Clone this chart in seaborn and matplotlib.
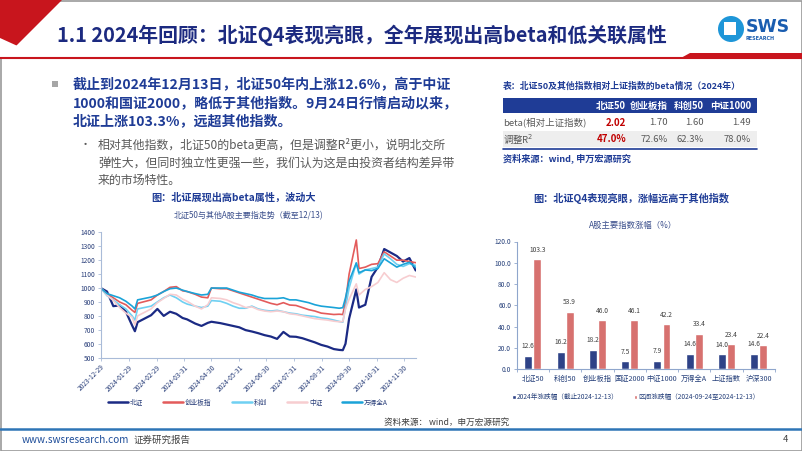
import matplotlib
matplotlib.use("Agg")
import matplotlib.pyplot as plt
import matplotlib.patches as mpatches
from matplotlib.lines import Line2D
import numpy as np
import pandas as pd
import seaborn as sns

sns.set_style("white")
plt.rcParams['font.family'] = ['Noto Sans CJK SC', 'DejaVu Sans']
plt.rcParams['axes.unicode_minus'] = False

# ---------------- data ----------------
dates = ['2023-12-29','2024-01-05','2024-01-12','2024-01-19','2024-01-26','2024-02-02','2024-02-05',
         '2024-02-08','2024-02-23','2024-03-01','2024-03-08','2024-03-15','2024-03-22','2024-03-29',
         '2024-04-03','2024-04-12','2024-04-19','2024-04-26','2024-04-30','2024-05-10','2024-05-17',
         '2024-05-24','2024-05-31','2024-06-07','2024-06-14','2024-06-21','2024-06-28','2024-07-05',
         '2024-07-12','2024-07-19','2024-07-26','2024-08-02','2024-08-09','2024-08-16','2024-08-23',
         '2024-08-30','2024-09-06','2024-09-13','2024-09-19','2024-09-23','2024-09-26','2024-09-30',
         '2024-10-08','2024-10-11','2024-10-18','2024-10-25','2024-11-01','2024-11-08','2024-11-15',
         '2024-11-22','2024-11-29','2024-12-06','2024-12-13']
beizheng = [1000,975,870,875,830,730,690,755,805,850,800,830,815,785,775,745,728,750,758,748,738,
            728,718,698,688,676,662,652,635,685,652,650,640,625,610,592,580,562,556,554,600,780,
            990,860,880,1080,1150,1280,1255,1230,1190,1215,1126]
chuangye = [1000,960,930,900,880,840,825,890,915,950,975,1005,1010,980,975,955,935,930,1000,995,995,
            980,965,950,935,920,905,890,880,895,878,875,860,845,835,820,815,810,812,810,900,1100,
            1345,1140,1150,1170,1175,1260,1230,1200,1200,1190,1182]
kechuang = [1000,945,915,880,850,800,770,850,870,900,930,950,930,900,885,870,860,870,910,905,890,
            870,855,855,870,850,840,835,840,830,820,815,805,800,795,785,780,770,760,755,860,1000,
            1180,1100,1130,1140,1150,1245,1210,1170,1155,1175,1162]
zhongzheng = [1000,950,910,860,820,790,735,800,850,895,925,955,950,920,905,870,850,880,930,925,915,
              895,880,860,865,845,835,830,835,830,815,810,800,790,780,775,770,762,758,759,850,920,
              1030,950,990,1010,1040,1110,1060,1040,1070,1090,1079]
wande = [1000,960,945,930,905,870,850,915,935,950,975,995,1000,985,975,960,950,955,1000,1000,1000,
         985,970,960,950,935,925,925,925,930,915,915,905,895,880,870,865,860,855,859,930,1050,
         1180,1110,1130,1125,1140,1210,1180,1150,1170,1185,1146]
line_names = ['北证', '创业板指', '科创', '中证', '万得全A']
xtick_dates = ['2023-12-29','2024-01-29','2024-02-29','2024-03-31','2024-04-30','2024-05-31',
               '2024-06-30','2024-07-31','2024-08-31','2024-09-30','2024-10-31','2024-11-30']

bar_cats = ['北证50', '科创50', '创业板指', '国证2000', '中证1000', '万得全A', '上证指数', '沪深300']
ytd_2024 = [12.6, 16.2, 18.2, 7.5, 7.9, 14.6, 14.0, 14.6]
since_0924 = [103.3, 53.9, 46.0, 46.1, 42.2, 33.4, 23.4, 22.4]
bar_series = ['2024年涨跌幅（截止2024-12-13）', '区间涨跌幅（2024-09-24至2024-12-13）']

tbl_cols = ['北证50', '创业板指', '科创50', '中证1000']
tbl_beta = ['2.02', '1.70', '1.60', '1.49']
tbl_r2 = ['47.0%', '72.6%', '62.3%', '78.0%']

# ---------------- figure ----------------
W, H = 802, 451
fig = plt.figure(figsize=(W/100, H/100), dpi=100)
fig.patch.set_facecolor('white')
bg = fig.add_axes([0, 0, 1, 1])
bg.set_xlim(0, W); bg.set_ylim(H, 0); bg.axis('off')

def T(x, y, s, size, color, weight='normal', ha='left', va='center', **kw):
    bg.text(x, y, s, fontsize=size, color=color, fontweight=weight, ha=ha, va=va, **kw)

# frame
bg.add_patch(mpatches.Rectangle((0.5, 0.5), W-1, H-1, fill=False, ec='#9a9a9a', lw=1.2))
# header shapes
bg.add_patch(mpatches.Polygon([(0, 0), (62, 0), (14, 48), (0, 48)], closed=True, fc='#c8151d', ec='none'))
bg.add_patch(mpatches.Polygon([(0, 38), (22, 48), (0, 58)], closed=True, fc='white', ec='none'))
bg.plot([0, W], [57.5, 57.5], color='#c8151d', lw=1.5)
bg.add_patch(mpatches.Polygon([(680, 58.5), (690, 53), (W, 53), (W, 58.5)], closed=True, fc='#c8151d', ec='none'))
T(57, 35, '1.1 2024年回顾：北证Q4表现亮眼，全年展现出高beta和低关联属性', 14.3, '#1c2a80', weight='bold')
# logo
bg.add_patch(mpatches.Circle((731, 29), 13, fc='#1e96d8', ec='none'))
bg.add_patch(mpatches.Rectangle((724, 22), 12, 13, fc='white', ec='none'))
T(746, 27, 'SWS', 12.5, '#1a5db0', weight='bold', family='DejaVu Sans')
T(746, 39, 'RESEARCH', 3.5, '#1a5db0', weight='bold', family='DejaVu Sans')

# left text
bg.add_patch(mpatches.Rectangle((52, 81), 6, 6, fc='#a6a6a6', ec='none'))
TXT = '#1f3c96'
T(73, 85, '截止到2024年12月13日，北证50年内上涨12.6%，高于中证', 10.1, TXT, weight='bold')
T(73, 103, '1000和国证2000，略低于其他指数。9月24日行情启动以来，', 10.1, TXT, weight='bold')
T(73, 121.5, '北证上涨103.3%，远超其他指数。', 10.1, TXT, weight='bold')
T(80, 145, '•', 8, '#595959')
T(98, 145, '相对其他指数，北证50的beta更高，但是调整R²更小，说明北交所', 8.6, '#595959')
T(98, 163, '弹性大，但同时独立性更强一些，我们认为这是由投资者结构差异带', 8.6, '#595959')
T(98, 180.5, '来的市场特性。', 8.6, '#595959')

# table
T(503, 86.5, '表：北证50及其他指数相对上证指数的beta情况（2024年）', 6.4, TXT, weight='bold')
bg.add_patch(mpatches.Rectangle((503, 98), 254, 15, fc='#1f3c96', ec='none'))
bg.add_patch(mpatches.Rectangle((503, 131), 254, 16, fc='#eeeeee', ec='none'))
bg.plot([503, 757], [148.5, 148.5], color='#1f3c96', lw=1.2)
col_x = [626, 668, 704, 751]
for cx, c in zip(col_x, tbl_cols):
    T(cx, 105.5, c, 6.8, 'white', weight='bold', ha='right')
T(503, 122.5, 'beta(相对上证指数)', 6.8, '#595959')
T(503, 139.5, '调整R$^2$', 6.8, '#595959')
for i, (cx, b, r) in enumerate(zip(col_x, tbl_beta, tbl_r2)):
    if i == 0:
        T(cx, 122.5, b, 7.0, '#c00000', weight='bold', ha='right')
        T(cx, 139.5, r, 7.0, '#c00000', weight='bold', ha='right')
    else:
        T(cx, 122.5, b, 6.8, '#595959', ha='right')
        T(cx, 139.5, r, 6.8, '#595959', ha='right')
T(503, 158.5, '资料来源：wind, 申万宏源研究', 6.6, TXT, weight='bold')

# chart titles
T(234, 198, '图：北证展现出高beta属性，波动大', 7.3, TXT, weight='bold', ha='center')
T(249, 216, '北证50与其他A股主要指走势（截至12/13)', 5.8, '#3b4f8c', ha='center')
T(631, 198, '图：北证Q4表现亮眼，涨幅远高于其他指数', 7.3, TXT, weight='bold', ha='center')
T(633, 225, 'A股主要指数涨幅（%）', 6.0, '#3b4f8c', ha='center')

# footer
T(447, 422, '资料来源： wind，申万宏源研究', 6.2, '#404040', ha='center')
bg.plot([0, W], [428.5, 428.5], color='#2e75b6', lw=1.8)
T(22, 440, 'www.swsresearch.com', 7.2, '#1f4e9a')
T(134, 440, '证券研究报告', 6.8, '#404040')
T(785, 440, '4', 6.8, '#404040', ha='center')

# ---------------- line chart ----------------
def fax(l, t, r, b):
    return fig.add_axes([l/W, 1-b/H, (r-l)/W, (b-t)/H])

axl = fax(100.7, 232.3, 415.7, 357.7)
series_vals = [beizheng, chuangye, kechuang, zhongzheng, wande]
dl = pd.DataFrame({
    'date': np.tile(pd.to_datetime(dates), len(line_names)),
    'value': np.concatenate([np.array(v, float) for v in series_vals]),
    'name': np.repeat(line_names, len(dates)),
})
line_colors = {'北证': '#1b2a84', '创业板指': '#e35b5b', '科创': '#6fd0f2', '中证': '#f7cdd0', '万得全A': '#1aa3d8'}
line_widths = {'北证': 1.6, '创业板指': 1.2, '科创': 1.2, '中证': 1.2, '万得全A': 1.2}
sns.lineplot(data=dl, x='date', y='value', hue='name', hue_order=line_names, palette=line_colors,
             ax=axl, legend=False, estimator=None, sort=False)
for ln, nm in zip(axl.get_lines(), line_names):
    ln.set_linewidth(line_widths[nm])
axl.set_xlim(pd.Timestamp('2023-12-29'), pd.Timestamp('2024-12-13'))
axl.set_ylim(500, 1400)
axl.set_yticks(range(500, 1401, 100))
axl.set_xticks(pd.to_datetime(xtick_dates))
axl.set_xticklabels(xtick_dates, rotation=45, ha='right', rotation_mode='anchor')
axl.set_xlabel(''); axl.set_ylabel('')
for s in ['top', 'right']:
    axl.spines[s].set_visible(False)
for s in ['left', 'bottom']:
    axl.spines[s].set_color('#a9bbd8'); axl.spines[s].set_linewidth(0.8)
axl.tick_params(axis='both', length=2.5, width=0.6, color='#a9bbd8', labelsize=4.8, labelcolor='#2a3f7a', pad=1.5, direction='out')
axl.tick_params(axis='x', bottom=True)
axl.tick_params(axis='y', left=True)
axl.set_facecolor('none')
handles = [Line2D([0], [0], color=line_colors[n], lw=1.8) for n in line_names]
fig.legend(handles, line_names, loc='center', bbox_to_anchor=(248/W, 1-402.5/H), ncol=5, frameon=False,
           fontsize=4.8, handlelength=3.0, handletextpad=0.3, columnspacing=3.0, labelcolor='#2a3f7a')

# ---------------- bar chart ----------------
axb = fax(516.7, 241.5, 775, 369.3)
db = pd.DataFrame({
    'cat': bar_cats * 2,
    'value': ytd_2024 + since_0924,
    'series': [bar_series[0]] * len(bar_cats) + [bar_series[1]] * len(bar_cats),
})
sns.barplot(data=db, x='cat', y='value', hue='series', hue_order=bar_series,
            palette=['#1f3a96', '#e8605e'], width=0.56, gap=0.12, ax=axb, legend=True, errorbar=None)
for cont in axb.containers:
    axb.bar_label(cont, fmt='%.1f', fontsize=4.8, color='#404040', padding=4)
axb.set_ylim(0, 120)
axb.set_xlim(-0.5, len(bar_cats) - 0.5)
axb.set_yticks(range(0, 121, 20))
axb.set_yticklabels([f'{v:.1f}' for v in range(0, 121, 20)])
axb.set_xlabel(''); axb.set_ylabel('')
for s in ['top', 'right']:
    axb.spines[s].set_visible(False)
for s in ['left', 'bottom']:
    axb.spines[s].set_color('#8fa6cc'); axb.spines[s].set_linewidth(0.8)
axb.set_xticks(np.arange(len(bar_cats)))
axb.set_xticks(np.arange(len(bar_cats) + 1) - 0.5, minor=True)
axb.tick_params(axis='x', which='major', length=0, labelsize=5.2, labelcolor='#26407a', pad=4)
axb.tick_params(axis='x', which='minor', length=2.5, width=0.6, color='#8fa6cc', bottom=True)
axb.tick_params(axis='y', length=2.5, width=0.6, color='#8fa6cc', labelsize=4.8, labelcolor='#26407a', pad=1.5, left=True)
axb.set_facecolor('none')
h, l = axb.get_legend_handles_labels()
axb.get_legend().remove()
fig.legend(h, l, loc='center', bbox_to_anchor=(636/W, 1-397/H), ncol=2, frameon=False, fontsize=4.8,
           handlelength=0.5, handleheight=0.5, handletextpad=0.2, columnspacing=2.3, labelcolor='#26407a')

fig.savefig('out.png', dpi=100, facecolor='white')
